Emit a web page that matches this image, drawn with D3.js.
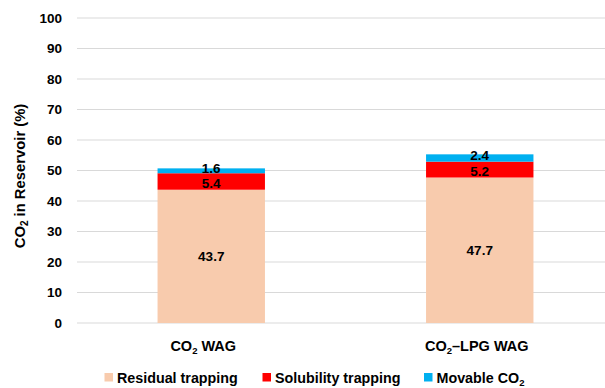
<!DOCTYPE html>
<html>
<head>
<meta charset="utf-8">
<script src="https://cdn.jsdelivr.net/npm/d3@7"></script>
<style>
  html, body { margin: 0; padding: 0; background: #fff; }
  svg { display: block; font-family: Arial, "Liberation Sans", sans-serif; font-weight: bold; }
</style>
</head>
<body>
<svg id="chart" width="605" height="388"></svg>
<script>
// Scenarios on the x axis
const categories = ["CO2 WAG", "CO2-LPG WAG"];
// Trapping contributions (% of injected CO2), stacked bottom to top
const residual = [43.7, 47.7];
const solubility = [5.4, 5.2];
const movable = [1.6, 2.4];
const seriesNames = ["Residual trapping", "Solubility trapping", "Movable CO2"];
const seriesColors = ["#F8CBAD", "#FF0000", "#00B0F0"];
const yTicks = [0, 10, 20, 30, 40, 50, 60, 70, 80, 90, 100];

const svg = d3.select("#chart");

const x = d3.scaleBand()
  .domain(categories)
  .range([77, 614])
  .paddingInner(0.6)
  .paddingOuter(0.3);

const y = d3.scaleLinear().domain([0, 100]).range([323, 18]);

// Horizontal gridlines
svg.append("g")
  .selectAll("line")
  .data(yTicks)
  .join("line")
  .attr("x1", 77).attr("x2", 605)
  .attr("y1", d => y(d)).attr("y2", d => y(d))
  .attr("stroke", "#d9d9d9").attr("stroke-width", 1);

// Y axis tick labels
const yAxis = d3.axisLeft(y).tickValues(yTicks).tickSize(0).tickPadding(0);
const gy = svg.append("g").attr("transform", "translate(62,0)").call(yAxis);
gy.select(".domain").remove();
gy.selectAll("text")
  .attr("font-size", 13.5).attr("font-weight", "bold")
  .attr("font-family", "Arial, 'Liberation Sans', sans-serif")
  .attr("fill", "#000");

// Stack the series
const rows = categories.map((c, i) => ({
  cat: c, s0: residual[i], s1: solubility[i], s2: movable[i]
}));
const stack = d3.stack().keys(["s0", "s1", "s2"]);
const layers = stack(rows);

const gBars = svg.append("g");
layers.forEach((layer, li) => {
  gBars.append("g")
    .selectAll("rect")
    .data(layer)
    .join("rect")
    .attr("x", d => x(d.data.cat))
    .attr("width", x.bandwidth())
    .attr("y", d => y(d[1]))
    .attr("height", d => y(d[0]) - y(d[1]))
    .attr("fill", seriesColors[li]);
});

// Segment value labels
const labelShift = [0, 1.5, -2.5];
layers.forEach((layer, li) => {
  gBars.append("g")
    .selectAll("text")
    .data(layer)
    .join("text")
    .attr("x", d => x(d.data.cat) + x.bandwidth() / 2)
    .attr("y", d => (y(d[0]) + y(d[1])) / 2 + labelShift[li])
    .attr("dy", "0.36em")
    .attr("text-anchor", "middle")
    .attr("font-size", 13.5)
    .attr("fill", "#000")
    .text(d => (d[1] - d[0]).toFixed(1));
});

// Category labels with subscript 2
const catText = [
  { main: "CO", sub: "2", rest: " WAG", dx: -8 },
  { main: "CO", sub: "2", rest: "\u2013LPG WAG", dx: -3 }
];
const gx = svg.append("g");
categories.forEach((c, i) => {
  const t = gx.append("text")
    .attr("x", x(c) + x.bandwidth() / 2 + catText[i].dx)
    .attr("y", 351)
    .attr("text-anchor", "middle")
    .attr("font-size", 14.5)
    .attr("fill", "#000");
  t.append("tspan").text(catText[i].main);
  t.append("tspan").attr("font-size", 9.5).attr("dy", 3).text(catText[i].sub);
  t.append("tspan").attr("dy", -3).text(catText[i].rest);
});

// Y axis title
const title = svg.append("text")
  .attr("transform", "translate(25,176) rotate(-90)")
  .attr("text-anchor", "middle")
  .attr("font-size", 14.8)
  .attr("fill", "#000");
title.append("tspan").text("CO");
title.append("tspan").attr("font-size", 10).attr("dy", 3).text("2");
title.append("tspan").attr("dy", -3).text(" in Reservoir (%)");

// Legend
const legendX = [104.5, 262.5, 424];
const legend = svg.append("g");
seriesNames.forEach((name, i) => {
  const g = legend.append("g").attr("transform", `translate(${legendX[i]},373)`);
  g.append("rect").attr("width", 8.5).attr("height", 8.5).attr("fill", seriesColors[i]);
  const t = g.append("text")
    .attr("x", 12.5)
    .attr("y", 9.5)
    .attr("font-size", 14.3)
    .attr("fill", "#000");
  if (i === 2) {
    t.append("tspan").text("Movable CO");
    t.append("tspan").attr("font-size", 9.5).attr("dy", 3).text("2");
  } else {
    t.text(name);
  }
});
</script>
</body>
</html>
